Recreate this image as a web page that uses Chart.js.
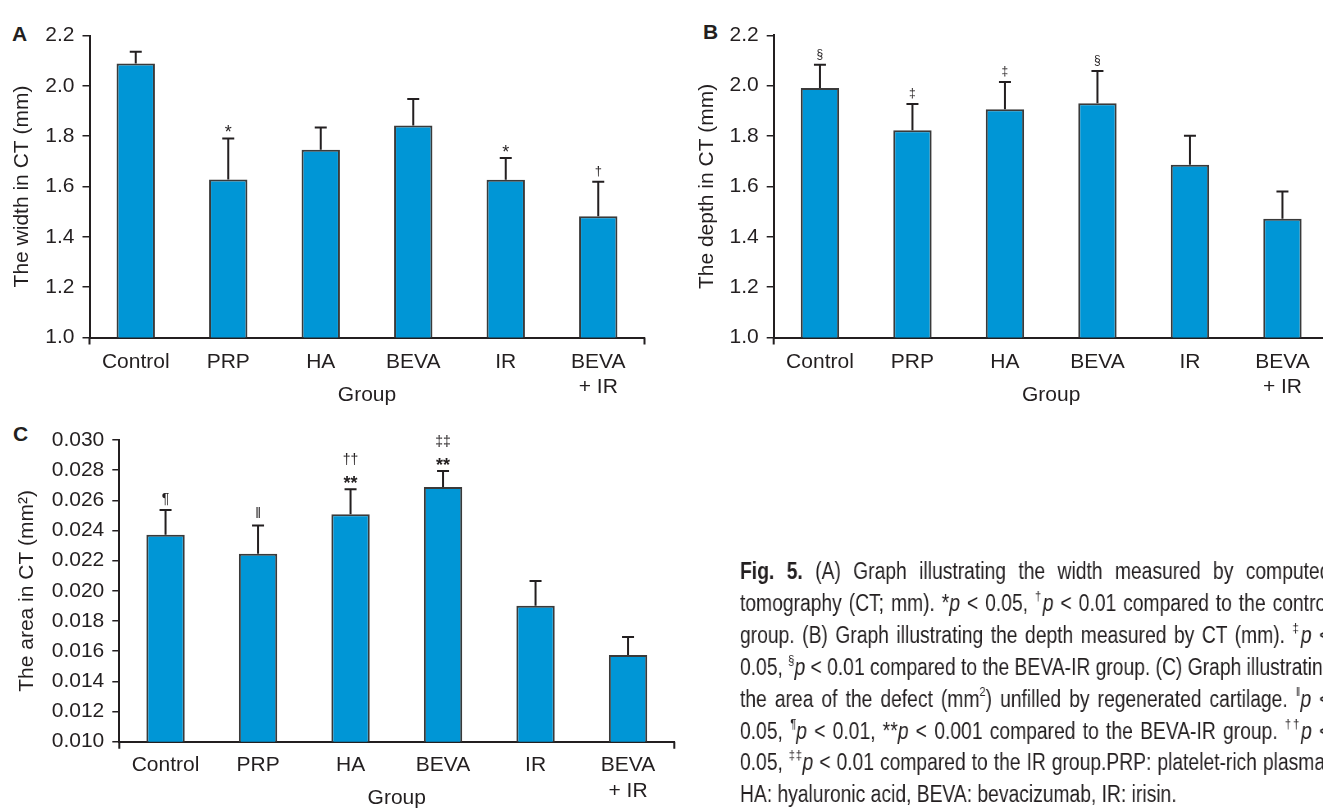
<!DOCTYPE html>
<html>
<head>
<meta charset="utf-8">
<title>Fig. 5</title>
<script src="https://cdn.jsdelivr.net/npm/chart.js@4.4.1/dist/chart.umd.min.js"></script>
<style>
    html, body { margin: 0; padding: 0; background: #fff; }
    body {
        width: 1323px; height: 808px; overflow: hidden; position: relative;
        font-family: "Liberation Sans", Arial, sans-serif; color: #231f20;
    }
    canvas { position: absolute; }
    .panel { position: absolute; font-weight: bold; font-size: 21px; line-height: 1; }
    /* condensed caption: Liberation Sans squeezed horizontally */
    #caption {
        position: absolute; left: 740px; top: 556px;
        font-family: "Liberation Sans", Arial, sans-serif;
        font-size: 23.5px; line-height: 31.9px;
        transform: scaleX(0.82); transform-origin: 0 0;
        will-change: transform;
        -webkit-font-smoothing: antialiased;
    }
    #caption div { width: 720px; white-space: nowrap; text-align: justify; text-align-last: justify; }
    #caption div.last { text-align-last: left; }
    #caption sup { font-size: 58%; line-height: 0; vertical-align: 0.8em; }
</style>
</head>
<body>

<div class="panel" style="left:12px; top:23px;">A</div>
<div class="panel" style="left:703px; top:21px;">B</div>
<div class="panel" style="left:13px; top:423px;">C</div>

<canvas id="chartA" width="680" height="420" style="left:0; top:0;"></canvas>
<canvas id="chartB" width="680" height="420" style="left:690px; top:0;"></canvas>
<canvas id="chartC" width="700" height="420" style="left:0; top:410px;"></canvas>

<div id="caption">
    <div><b>Fig. 5.</b> (A) Graph illustrating the width measured by computed</div>
    <div>tomography (CT; mm). *<i>p</i> &lt; 0.05, <sup>†</sup><i>p</i> &lt; 0.01 compared to the control</div>
    <div>group. (B) Graph illustrating the depth measured by CT (mm). <sup>‡</sup><i>p</i> &lt;</div>
    <div>0.05, <sup>§</sup><i>p</i> &lt; 0.01 compared to the BEVA-IR group. (C) Graph illustrating</div>
    <div>the area of the defect (mm<sup>2</sup>) unfilled by regenerated cartilage. <sup>‖</sup><i>p</i> &lt;</div>
    <div>0.05, <sup>¶</sup><i>p</i> &lt; 0.01, **<i>p</i> &lt; 0.001 compared to the BEVA-IR group. <sup>††</sup><i>p</i> &lt;</div>
    <div>0.05, <sup>‡‡</sup><i>p</i> &lt; 0.01 compared to the IR group.PRP: platelet-rich plasma,</div>
    <div class="last">HA: hyaluronic acid, BEVA: bevacizumab, IR: irisin.</div>
</div>

<script>
// Groups on the x axis
const groups = ['Control', 'PRP', 'HA', 'BEVA', 'IR', ['BEVA', '+ IR']];

// (A) width in CT (mm): mean and upper error
const widthMeans = [2.089, 1.628, 1.746, 1.842, 1.627, 1.482];
const widthErrors = [0.046, 0.163, 0.088, 0.106, 0.086, 0.137];
const widthMarks = [[], ['*'], [], [], ['*'], ['†']];
const widthTicks = ['1.0', '1.2', '1.4', '1.6', '1.8', '2.0', '2.2'];

// (B) depth in CT (mm)
const depthMeans = [1.991, 1.823, 1.906, 1.930, 1.686, 1.472];
const depthErrors = [0.092, 0.104, 0.109, 0.128, 0.115, 0.108];
const depthMarks = [['§'], ['‡'], ['‡'], ['§'], [], []];
const depthTicks = ['1.0', '1.2', '1.4', '1.6', '1.8', '2.0', '2.2'];

// (C) area in CT (mm2)
const areaMeans = [0.02372, 0.02246, 0.02507, 0.02688, 0.01902, 0.01575];
const areaErrors = [0.00164, 0.00188, 0.00166, 0.00106, 0.00163, 0.00119];
const areaMarks = [['¶'], ['‖'], ['**', '††'], ['**', '‡‡'], [], []];
const areaTicks = ['0.010', '0.012', '0.014', '0.016', '0.018', '0.020',
                   '0.022', '0.024', '0.026', '0.028', '0.030'];

const ink = '#231f20';
const barFill = '#0096d6';
const font = { family: '"Liberation Sans", Arial, sans-serif', size: 21, lineHeight: 1.2 };

// Error bars (upper half only), significance marks and the axis end ticks
const errorBars = {
    id: 'errorBars',
    afterDatasetsDraw(chart, args, opts) {
        const { ctx, chartArea } = chart;
        const yScale = chart.scales.y;
        const meta = chart.getDatasetMeta(0);
        const values = chart.data.datasets[0].data;

        ctx.save();
        ctx.strokeStyle = ink;
        ctx.fillStyle = ink;
        ctx.lineWidth = 2;
        ctx.textAlign = 'center';
        ctx.textBaseline = 'alphabetic';

        meta.data.forEach((bar, i) => {
            const top = yScale.getPixelForValue(values[i] + opts.errors[i]);
            ctx.beginPath();
            ctx.moveTo(bar.x, bar.y);
            ctx.lineTo(bar.x, top);
            ctx.moveTo(bar.x - 6, top);
            ctx.lineTo(bar.x + 6, top);
            ctx.stroke();

            opts.marks[i].forEach((m, k) => {
                let base;
                if (m.includes('*')) {
                    ctx.font = opts.starFont;
                    base = top - (k === 0 ? 0 : 24);
                } else {
                    ctx.font = opts.symbolFont;
                    base = top - (k === 0 ? 7 : 25);
                }
                ctx.fillText(m, bar.x, base);
            });
        });

        // tick marks below both ends of the x axis
        ctx.beginPath();
        ctx.moveTo(chartArea.left, chartArea.bottom);
        ctx.lineTo(chartArea.left, chartArea.bottom + 7);
        ctx.moveTo(chartArea.right, chartArea.bottom);
        ctx.lineTo(chartArea.right, chartArea.bottom + 7);
        ctx.stroke();
        ctx.restore();
    }
};

function makeChart(id, cfg) {
    const tickValues = cfg.ticks.map(Number);
    return new Chart(document.getElementById(id), {
        type: 'bar',
        data: {
            labels: groups,
            datasets: [{
                data: cfg.values,
                backgroundColor: barFill,
                borderColor: '#3a3a3a',
                borderWidth: 2,
                borderSkipped: 'bottom',
                categoryPercentage: 1,
                barPercentage: 0.415
            }]
        },
        options: {
            responsive: false,
            animation: false,
            devicePixelRatio: 1,
            layout: { padding: { top: cfg.padTop, right: cfg.padRight, left: 0, bottom: 0 } },
            plugins: {
                legend: { display: false },
                tooltip: { enabled: false },
                errorBars: {
                    errors: cfg.errors,
                    marks: cfg.marks,
                    starFont: cfg.starFont,
                    symbolFont: cfg.symbolFont
                }
            },
            scales: {
                x: {
                    offset: true,
                    grid: { display: false, drawTicks: false },
                    border: { display: true, color: ink, width: 2 },
                    ticks: { color: ink, font, padding: cfg.xTickPad, maxRotation: 0, autoSkip: false },
                    title: {
                        display: true, text: 'Group', color: ink, font,
                        padding: { top: 0, bottom: cfg.xTitlePad }
                    },
                    afterFit: (s) => { s.height = cfg.xHeight; }
                },
                y: {
                    min: tickValues[0],
                    max: tickValues[tickValues.length - 1],
                    afterBuildTicks: (s) => { s.ticks = tickValues.map(v => ({ value: v })); },
                    grid: { drawOnChartArea: false, drawTicks: true, tickLength: 7, color: ink, lineWidth: 1.5 },
                    border: { display: true, color: ink, width: 2 },
                    ticks: { color: ink, font, padding: 8, callback: (v, i) => cfg.ticks[i] },
                    title: {
                        display: true, text: cfg.yTitle, color: ink, font,
                        padding: { top: cfg.yTitlePad, bottom: 0 }
                    },
                    afterFit: (s) => { s.width = cfg.yWidth; }
                }
            }
        },
        plugins: [errorBars]
    });
}

makeChart('chartA', {
    values: widthMeans, errors: widthErrors, marks: widthMarks, ticks: widthTicks,
    yTitle: 'The width in CT (mm)',
    yWidth: 89.5, padTop: 35.5, padRight: 35.5, xHeight: 82.5,
    xTickPad: 12, xTitlePad: 12.4, yTitlePad: 9.4,
    starFont: '18px "Liberation Sans"', symbolFont: '13px "Liberation Sans"'
});

makeChart('chartB', {
    values: depthMeans, errors: depthErrors, marks: depthMarks, ticks: depthTicks,
    yTitle: 'The depth in CT (mm)',
    yWidth: 83.7, padTop: 35.3, padRight: 41.3, xHeight: 82.5,
    xTickPad: 12, xTitlePad: 12.4, yTitlePad: 4.4,
    starFont: '18px "Liberation Sans"', symbolFont: '12px "Liberation Sans"'
});

makeChart('chartC', {
    values: areaMeans, errors: areaErrors, marks: areaMarks, ticks: areaTicks,
    yTitle: 'The area in CT (mm²)',
    yWidth: 119.3, padTop: 30, padRight: 25.7, xHeight: 88.3,
    xTickPad: 11.4, xTitlePad: 19.4, yTitlePad: 14.4,
    starFont: 'bold 18px "Liberation Sans"', symbolFont: '14px "Liberation Sans"'
});
</script>
</body>
</html>
